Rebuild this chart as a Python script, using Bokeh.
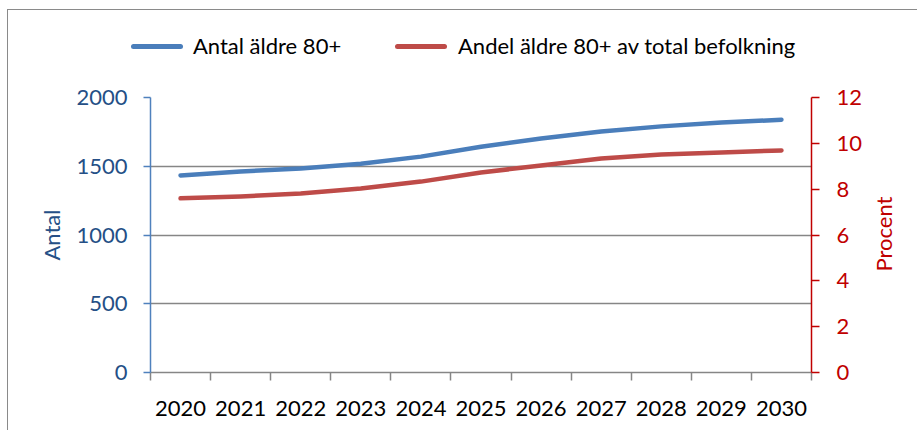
from bokeh.plotting import figure
from bokeh.layouts import column
from bokeh.models import Range1d, LinearAxis, FixedTicker, Div
from bokeh.embed import file_html
from bokeh.resources import INLINE

# ---- data ----
years = [2020, 2021, 2022, 2023, 2024, 2025, 2026, 2027, 2028, 2029, 2030]
year_labels = ["2020", "2021", "2022", "2023", "2024", "2025", "2026", "2027", "2028", "2029", "2030"]
antal = [1433, 1462, 1484, 1518, 1570, 1642, 1702, 1752, 1790, 1818, 1838]
andel = [7.60, 7.68, 7.81, 8.03, 8.33, 8.73, 9.03, 9.34, 9.51, 9.60, 9.69]
left_ticks = [0, 500, 1000, 1500, 2000]
right_ticks = [0, 2, 4, 6, 8, 10, 12]
series_names = ["Antal äldre 80+", "Andel äldre 80+ av total befolkning"]
right_title = "Procent"

FONT = "Lato"
GRAY = "#868686"
BLUE_LINE = "#4A7EBB"
RED_LINE = "#BE4B48"
BLUE_AXIS = "#4F81BD"
BLUE_TEXT = "#254F86"
RED_AXIS = "#C00000"
series_colors = [BLUE_LINE, RED_LINE]

W = 909
LEG_H = 60

p = figure(width=W, height=360, output_backend="svg", toolbar_location=None,
           x_range=Range1d(2019.5, 2030.5), y_range=Range1d(0, 2000),
           min_border_left=142, min_border_right=106, min_border_top=27, min_border_bottom=58)
p.outline_line_color = None
p.background_fill_color = "white"
p.border_fill_color = None

p.extra_y_ranges = {"pct": Range1d(0, 12)}

# grid
p.xgrid.visible = False
p.ygrid.ticker = FixedTicker(ticks=left_ticks)
p.ygrid.grid_line_color = GRAY
p.ygrid.grid_line_width = 1.5

# x axis
xa = p.xaxis[0]
xa.ticker = FixedTicker(ticks=years, minor_ticks=[y - 0.5 for y in years] + [years[-1] + 0.5])
xa.major_label_overrides = {y: s for y, s in zip(years, year_labels)}
xa.major_tick_line_color = None
xa.major_tick_out = 0
xa.major_tick_in = 0
xa.minor_tick_line_color = GRAY
xa.minor_tick_line_width = 1.5
xa.minor_tick_out = 8
xa.minor_tick_in = 0
xa.axis_line_color = GRAY
xa.axis_line_width = 1.5
xa.major_label_text_font = FONT
xa.major_label_text_font_size = "22px"
xa.major_label_text_color = "black"
xa.major_label_standoff = 20

# left axis
ya = p.yaxis[0]
ya.ticker = FixedTicker(ticks=left_ticks)
ya.axis_line_color = BLUE_AXIS
ya.axis_line_width = 1.5
ya.major_tick_line_color = BLUE_AXIS
ya.major_tick_line_width = 1.5
ya.major_tick_out = 7
ya.major_tick_in = 0
ya.minor_tick_line_color = None
ya.major_label_text_font = FONT
ya.major_label_text_font_size = "22px"
ya.major_label_text_color = BLUE_TEXT
ya.major_label_standoff = 16
ya.axis_label = "Antal"
ya.axis_label_text_font = FONT
ya.axis_label_text_font_size = "22px"
ya.axis_label_text_font_style = "normal"
ya.axis_label_text_color = BLUE_TEXT
ya.axis_label_standoff = 8

# right axis (its title is drawn as rotated HTML text, reading bottom-to-top)
ra = LinearAxis(y_range_name="pct", ticker=FixedTicker(ticks=right_ticks))
ra.axis_line_color = RED_AXIS
ra.axis_line_width = 1.5
ra.major_tick_line_color = RED_AXIS
ra.major_tick_line_width = 1.5
ra.major_tick_out = 8
ra.major_tick_in = 0
ra.minor_tick_line_color = None
ra.major_label_text_font = FONT
ra.major_label_text_font_size = "22px"
ra.major_label_text_color = RED_AXIS
ra.major_label_standoff = 17
p.add_layout(ra, "right")

# lines
p.line(years, antal, line_color=series_colors[0], line_width=4.5, line_cap="round", line_join="round")
p.line(years, andel, y_range_name="pct", line_color=series_colors[1], line_width=4.5,
       line_cap="round", line_join="round")

# ---- legend strip above the chart (HTML) ----
legend_pos = [(123, 185), (387, 450)]  # (swatch left, label left) in px
parts = []
for name, col, (sx, tx) in zip(series_names, series_colors, legend_pos):
    parts.append(
        f'<span style="position:absolute;left:{sx}px;top:34px;width:52px;height:5px;'
        f'background:{col};border-radius:3px;"></span>'
        f'<span style="position:absolute;left:{tx}px;top:22px;line-height:28px;'
        f'white-space:nowrap;color:black;">{name}</span>'
    )
parts.append(
    f'<span style="position:absolute;left:876px;top:224px;line-height:26px;white-space:nowrap;'
    f'color:{RED_AXIS};transform:translate(-50%,-50%) rotate(-90deg);">{right_title}</span>'
)
html = (f'<div style="position:relative;width:{W}px;height:{LEG_H}px;overflow:visible;'
        f'font-family:{FONT};font-size:22px;">' + "".join(parts) + '</div>')
lg = Div(text=html, width=W, height=LEG_H, margin=(0, 0, 0, 0),
         styles={"overflow": "visible", "z-index": "5"},
         stylesheets=[":host, :host * { overflow: visible !important; }"])

layout = column(lg, p, spacing=0)
layout.styles = {"border-left": "1px solid #8a8a8a", "border-top": "1px solid #8a8a8a",
                 "margin-left": "7px", "margin-top": "9px", "overflow": "visible"}

open("out.html", "w").write(file_html(layout, INLINE))
